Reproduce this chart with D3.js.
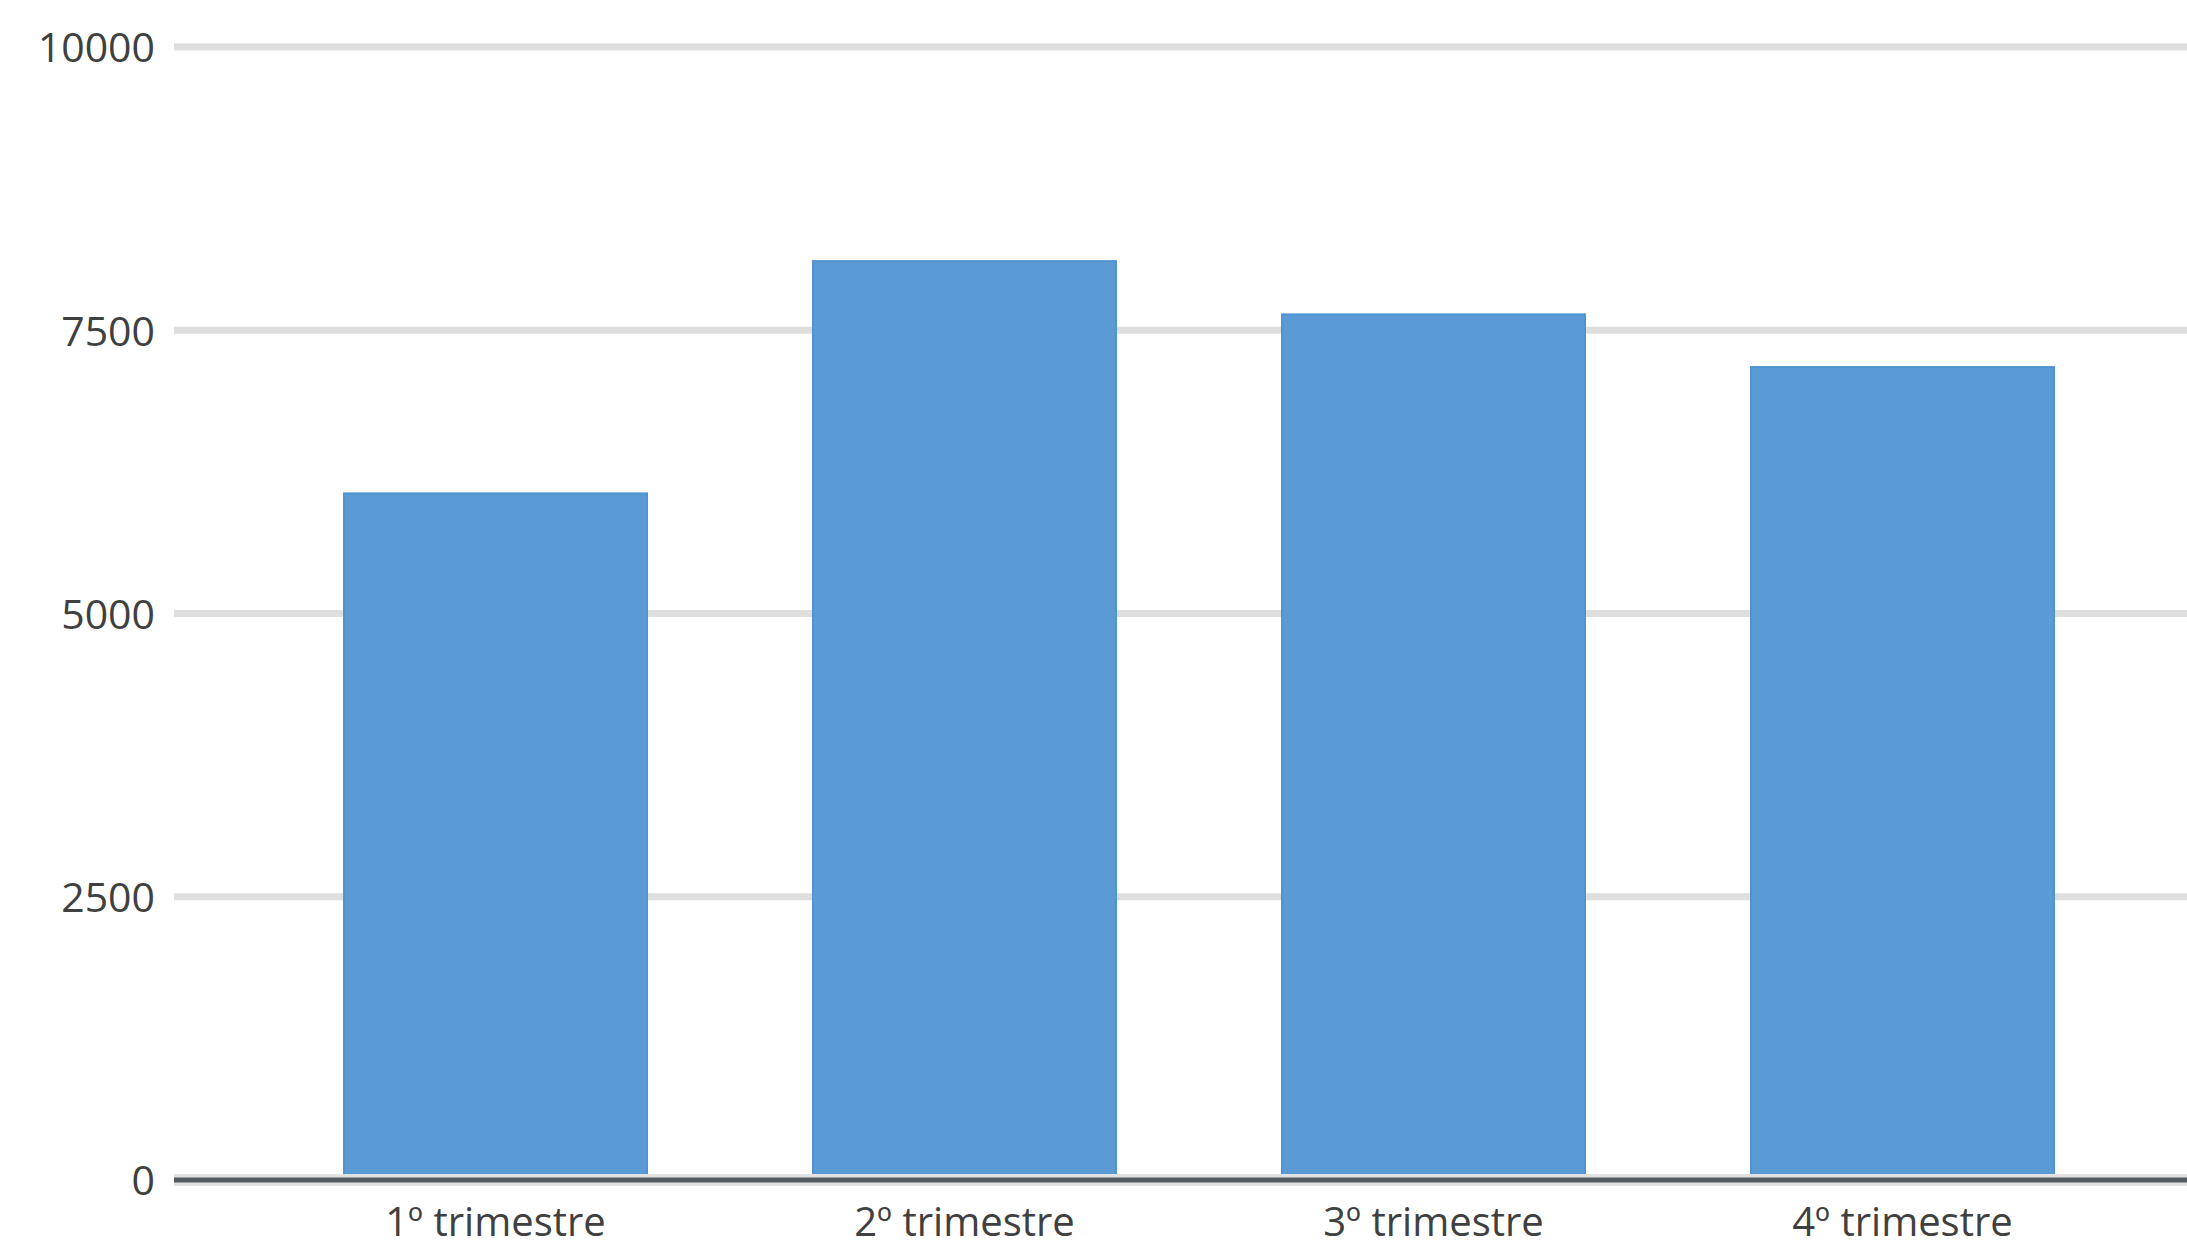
<!DOCTYPE html>
<html>
<head>
<meta charset="utf-8">
<script src="https://cdn.jsdelivr.net/npm/d3@7"></script>
<style>
  html, body { margin: 0; padding: 0; background: #ffffff; overflow: hidden; }
  svg { display: block; }
  text { font-family: "Open Sans", "Liberation Sans", sans-serif; fill: #404040; }
</style>
</head>
<body>
<svg id="chart" width="2187" height="1248"></svg>
<script>
// Quarterly totals
const categories = ["1º trimestre", "2º trimestre", "3º trimestre", "4º trimestre"];
const values = [6060, 8110, 7640, 7175];
const yTicks = [0, 2500, 5000, 7500, 10000];

const W = 2187, H = 1248;
const plot = { left: 178, right: 2220, top: 47, bottom: 1180 };

const svg = d3.select("#chart");

const x = d3.scaleBand()
  .domain(categories)
  .range([plot.left, plot.right])
  .paddingInner(0.354)
  .paddingOuter(0.354);

const y = d3.scaleLinear()
  .domain([0, 10000])
  .range([plot.bottom, plot.top]);

// Horizontal gridlines
svg.append("g")
  .selectAll("line")
  .data(yTicks.filter(d => d > 0))
  .join("line")
  .attr("x1", plot.left - 4)
  .attr("x2", W)
  .attr("y1", d => y(d))
  .attr("y2", d => y(d))
  .attr("stroke", "#dedede")
  .attr("stroke-width", 7);

// Bars
svg.append("g")
  .selectAll("rect")
  .data(values)
  .join("rect")
  .attr("x", (d, i) => x(categories[i]))
  .attr("y", d => y(d))
  .attr("width", x.bandwidth())
  .attr("height", d => y(0) - y(d))
  .attr("fill", "#5b9bd5")
  .attr("stroke", "#4f93d3")
  .attr("stroke-width", 2);

// Baseline
svg.append("line")
  .attr("x1", plot.left - 4).attr("x2", W)
  .attr("y1", y(0)).attr("y2", y(0))
  .attr("stroke", "#e2e2e2").attr("stroke-width", 12);
svg.append("line")
  .attr("x1", plot.left - 4).attr("x2", W)
  .attr("y1", y(0)).attr("y2", y(0))
  .attr("stroke", "#555a5f").attr("stroke-width", 5);

// Y axis labels
const yAxis = d3.axisLeft(y).tickValues(yTicks).tickSize(0).tickPadding(0).tickFormat(d3.format("d"));
const yG = svg.append("g")
  .attr("transform", `translate(155,0)`)
  .call(yAxis);
yG.select(".domain").remove();
yG.selectAll("text")
  .attr("font-size", 41)
  .attr("font-family", "'Open Sans', 'Liberation Sans', sans-serif")
  .attr("fill", "#404040")
  .attr("dy", "0.36em");

// X axis labels
const xAxis = d3.axisBottom(x).tickSize(0).tickPadding(0);
const xG = svg.append("g")
  .attr("transform", `translate(0,${plot.bottom})`)
  .call(xAxis);
xG.select(".domain").remove();
xG.selectAll("text")
  .attr("font-size", 40)
  .attr("font-family", "'Open Sans', 'Liberation Sans', sans-serif")
  .attr("fill", "#404040")
  .attr("dy", null)
  .attr("y", 56);
</script>
</body>
</html>
